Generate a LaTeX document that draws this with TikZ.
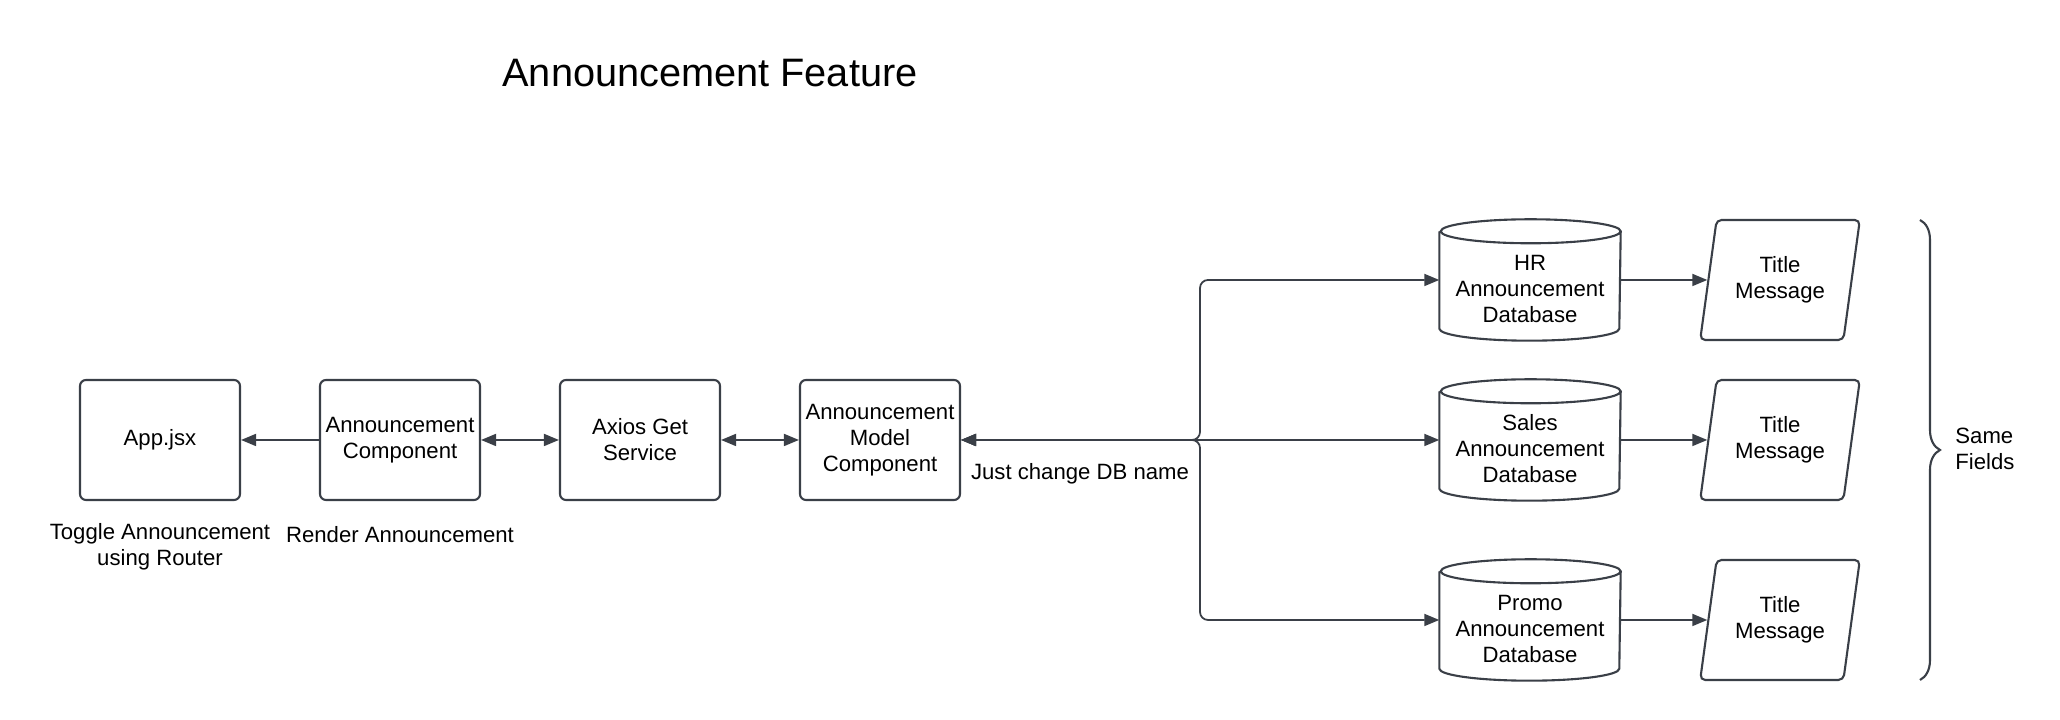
\documentclass[tikz,border=0pt]{standalone}
\usepackage{fontspec}
\setmainfont{Liberation Sans}
\usetikzlibrary{arrows.meta,shapes.geometric,decorations.pathreplacing}
\definecolor{edge}{HTML}{3A3F47}
\newcommand{\dbgap}{\rule{0pt}{0.34cm}}

\begin{document}
\begin{tikzpicture}[
    box/.style={draw=edge, line width=0.6pt, rounded corners=0.06cm, minimum width=1.6cm, minimum height=1.2cm, align=center, inner sep=0pt},
    dbase/.style={minimum width=1.8cm, minimum height=1.2cm, align=center, inner sep=0pt},
    msg/.style={draw=edge, line width=0.6pt, trapezium, trapezium left angle=76, trapezium right angle=104, trapezium stretches=true, minimum width=1.6cm, minimum height=1.2cm, align=center, inner sep=0pt, rounded corners=0.05cm},
    link/.style={draw=edge, line width=0.5pt},
    >={Triangle[length=0.15cm, width=0.12cm]},
    every node/.style={font=\fontsize{6.3}{7.4}\selectfont}
]
    \useasboundingbox (0, 0) rectangle (20.6, 7.2);
        \node [anchor=base, font=\fontsize{11.3}{13}\selectfont] (title) at (7.10, 6.33) {Announcement Feature};
        % front end chain
        \node [box] (app) at (1.60, 2.80) {App.jsx};
        \node [box] (comp) at (4.00, 2.80) {Announcement\\Component};
        \node [box] (axios) at (6.40, 2.80) {Axios Get\\Service};
        \node [box] (model) at (8.80, 2.80) {Announcement\\Model\\Component};
        \node [align=center] (toggle) at (1.60, 1.73) {Toggle Announcement\\using Router};
        \node (render) at (4.00, 1.85) {Render Announcement};
        \node (change) at (10.80, 2.46) {Just change DB name};
        % databases
        \node [dbase] (hr) at (15.30, 4.40) {\dbgap HR\\Announcement\\Database};
        \node [dbase] (sales) at (15.30, 2.80) {\dbgap Sales\\Announcement\\Database};
        \node [dbase] (promo) at (15.30, 1.00) {\dbgap Promo\\Announcement\\Database};
        \foreach \db in {hr, sales, promo}
            \draw[edge, line width=0.6pt] ([yshift=-0.12cm]\db.north west) -- ([yshift=0.12cm]\db.south west)
                arc[start angle=180, end angle=360, x radius=0.9cm, y radius=0.12cm]
                -- ([yshift=-0.12cm]\db.north east)
                arc[start angle=0, end angle=180, x radius=0.9cm, y radius=0.12cm]
                arc[start angle=180, end angle=360, x radius=0.9cm, y radius=0.12cm];
        \node [msg] (hrmsg) at (17.80, 4.40) {Title\\Message};
        \node [msg] (salesmsg) at (17.80, 2.80) {Title\\Message};
        \node [msg] (promomsg) at (17.80, 1.00) {Title\\Message};
        % connectors
        \draw[link, ->] (comp) -- (app);
        \draw[link, <->] (comp) -- (axios);
        \draw[link, <->] (axios) -- (model);
        \coordinate (split) at (12.00, 2.80);
        \draw[link, <->, rounded corners=0.08cm] (model.east) -- (split) |- (hr.west);
        \draw[link, <->] (model.east) -- (sales.west);
        \draw[link, <->, rounded corners=0.08cm] (model.east) -- (split) |- (promo.west);
        \draw[link, ->] (hr) -- (hrmsg);
        \draw[link, ->] (sales) -- (salesmsg);
        \draw[link, ->] (promo) -- (promomsg);
        % same fields
        \coordinate (bracetop) at (19.20, 5.00);
        \coordinate (bracebot) at (19.20, 0.40);
        \draw[edge, line width=0.6pt, decorate, decoration={brace, amplitude=0.2cm}] (bracetop) -- (bracebot);
        \node [anchor=west, align=left] (same) at (19.43, 2.71) {Same\\Fields};
    \end{tikzpicture}
\end{document}
